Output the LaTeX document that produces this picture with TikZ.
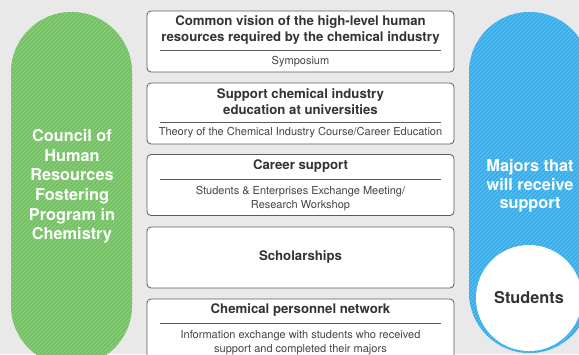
\documentclass[tikz,border=0pt]{standalone}
\usepackage{fontspec}
\setmainfont{TeX Gyre Heros}
\definecolor{bg}{HTML}{E9E9E9}
\definecolor{grn}{HTML}{6DBE5D}
\definecolor{grnl}{HTML}{8DCD7E}
\definecolor{blu}{HTML}{2FA9E6}
\definecolor{blul}{HTML}{5CBEF1}
\definecolor{boxline}{HTML}{5C5C5C}
\definecolor{ttl}{HTML}{333333}
\definecolor{sub}{HTML}{444444}
\tikzset{
  stepbox/.style={draw=boxline, line width=0.8pt, fill=white, rounded corners=4pt,
    minimum width=307pt, minimum height=61pt, inner sep=0pt},
  ttltext/.style={font=\bfseries\fontsize{13.2}{16}\selectfont, text=ttl, align=center, inner sep=0pt},
  subtext/.style={font=\fontsize{11}{14}\selectfont, text=sub, align=center, inner sep=0pt},
  divider/.style={draw=boxline, line width=0.7pt},
  pilltext/.style={font=\bfseries\fontsize{16.3}{19.6}\selectfont, text=white, align=center, inner sep=0pt},
  stripe/.style={line width=1.4pt, draw=#1},
}
\begin{document}
\begin{tikzpicture}[x=1pt,y=-1pt]
\useasboundingbox (0,0) rectangle (579,354);
\clip (0,0) rectangle (579,354);
\fill[bg] (0,0) rectangle (579,354);
% green pill
\fill[grn, rounded corners=60.5pt] (11,12) rectangle (132,366);
\begin{scope}
  \clip[rounded corners=60.5pt] (11,12) rectangle (132,366);
  \foreach \i in {-380,-376,...,140} \draw[stripe=grnl] (\i,380) -- (\i+380,0);
\end{scope}
% blue pill
\fill[blu, rounded corners=60.5pt] (469,12) rectangle (590,353);
\begin{scope}
  \clip[rounded corners=60.5pt] (469,12) rectangle (590,353);
  \foreach \i in {80,84,...,600} \draw[stripe=blul] (\i,380) -- (\i+380,0);
\end{scope}
\node[pilltext] (council) at (72,186.5) {Council of\\Human\\Resources\\Fostering\\Program in\\Chemistry};
\node[pilltext, font=\bfseries\fontsize{16.3}{18.7}\selectfont] (majors) at (530,186) {Majors that\\will receive\\support};
\node[circle, fill=white, minimum size=106pt, inner sep=0pt, font=\bfseries\fontsize{16.3}{19}\selectfont, text=ttl] (students) at (529,298) {Students};
% boxes
\node[stepbox] (b1) at (300.5,41.5) {};
\node[stepbox] (b2) at (300.5,113.5) {};
\node[stepbox] (b3) at (300.5,185) {};
\node[stepbox] (b4) at (300.5,257.5) {};
\node[stepbox] (b5) at (300.5,329.5) {};
% box 1
\node[ttltext] (t1) at (300.5,30) {Common vision of the high-level human\\resources required by the chemical industry};
\draw[divider] (160,50.7) -- (441,50.7);
\node[subtext] (s1) at (300.5,62) {Symposium};
% box 2
\node[ttltext] (t2) at (300.5,102) {Support chemical industry\\education at universities};
\draw[divider] (160,122) -- (441,122);
\node[subtext] (s2) at (300.5,133) {Theory of the Chemical Industry Course/Career Education};
% box 3
\node[ttltext] (t3) at (300.5,166) {Career support};
\draw[divider] (160,179) -- (441,179);
\node[subtext] (s3) at (300.5,199) {Students \& Enterprises Exchange Meeting/\\Research Workshop};
% box 4
\node[ttltext] (t4) at (300.5,257) {Scholarships};
% box 5
\node[ttltext] (t5) at (300.5,310) {Chemical personnel network};
\draw[divider] (160,323) -- (441,323);
\node[subtext] (s5) at (300.5,343) {Information exchange with students who received\\support and completed their majors};
\end{tikzpicture}
\end{document}
